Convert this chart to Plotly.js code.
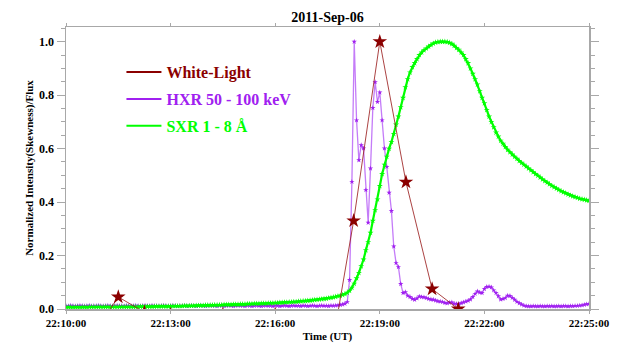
<!DOCTYPE html>
<html>
<head>
<meta charset="utf-8">
<script src="https://cdn.plot.ly/plotly-3.0.1.min.js"></script>
<style>
  html, body { margin: 0; padding: 0; background: #fff; }
  #graph { width: 629px; height: 354px; }
</style>
</head>
<body>
<div id="graph"></div>
<script>
// Start of the time window and cadence of the HXR / SXR samples (seconds)
const dayStr = '2011-09-06';
const startSec = 22 * 3600 + 10 * 60;
const cadence = 4;

// White-Light (normalized skewness), 45 s cadence
const wlTime = ['22:10:00', '22:10:45', '22:11:30', '22:12:15', '22:13:00', '22:13:45',
                '22:14:30', '22:15:15', '22:16:00', '22:16:45', '22:17:30', '22:18:15',
                '22:19:00', '22:19:45', '22:20:30', '22:21:15'];
const wlValue = [-0.05, -0.10, 0.045, -0.012, -0.02, -0.03,
                 -0.02, -0.03, -0.02, -0.03, -0.24, 0.33,
                 1.0, 0.475, 0.075, 0.0];

// HXR 50 - 100 keV, one value per 4 s from 22:10:00
const hxrValue = [
  0.012, 0.011, 0.013, 0.012, 0.011, 0.012, 0.013, 0.012, 0.011, 0.012, 0.013, 0.011, 0.012, 0.012, 0.013,
  0.012, 0.011, 0.012, 0.013, 0.012, 0.011, 0.012, 0.013, 0.012, 0.012, 0.011, 0.013, 0.012, 0.011, 0.012,
  0.013, 0.012, 0.011, 0.012, 0.013, 0.012, 0.011, 0.013, 0.012, 0.012, 0.011, 0.012, 0.013, 0.012, 0.011,
  0.012, 0.013, 0.012, 0.011, 0.012, 0.012, 0.013, 0.011, 0.012, 0.013, 0.012, 0.011, 0.012, 0.013, 0.012,
  0.011, 0.012, 0.013, 0.012, 0.012, 0.011, 0.013, 0.012, 0.011, 0.012, 0.013, 0.012, 0.011, 0.012, 0.013,
  0.012, 0.012, 0.011, 0.013, 0.012, 0.011, 0.012, 0.013, 0.012, 0.011, 0.012, 0.013, 0.012, 0.012, 0.011,
  0.013, 0.012, 0.011, 0.012, 0.013, 0.012, 0.011, 0.012, 0.013, 0.012, 0.012, 0.011, 0.013, 0.012, 0.011,
  0.012, 0.013, 0.012, 0.011, 0.012, 0.013, 0.012, 0.012, 0.011, 0.013, 0.012, 0.013, 0.014,
  0.015, 0.017, 0.020, 0.026, 0.109, 0.476, 1.000, 0.706, 0.557, 0.613, 0.601, 0.445, 0.323, 0.526, 0.752,
  0.849, 0.775, 0.810, 0.706, 0.601, 0.532, 0.435, 0.367, 0.234, 0.172, 0.157, 0.094, 0.060, 0.063, 0.050,
  0.045, 0.038, 0.035, 0.040, 0.047, 0.045, 0.044, 0.041, 0.038, 0.036, 0.035, 0.032, 0.029, 0.028, 0.026,
  0.023, 0.022, 0.024, 0.025, 0.020, 0.019, 0.019, 0.022, 0.025, 0.028, 0.031, 0.036, 0.045, 0.057, 0.066,
  0.062, 0.060, 0.075, 0.083, 0.084, 0.081, 0.070, 0.060, 0.048, 0.036, 0.038, 0.041, 0.050, 0.049, 0.042,
  0.035, 0.027, 0.022, 0.017, 0.013, 0.011, 0.010,
  0.010, 0.011, 0.010, 0.010, 0.011, 0.010, 0.010, 0.011, 0.010, 0.011, 0.010, 0.010, 0.011, 0.010, 0.011,
  0.011, 0.010, 0.011, 0.011, 0.012, 0.012, 0.013, 0.014, 0.016, 0.018, 0.019
];

// SXR 1 - 8 A (GOES), one value per 4 s from 22:10:00
const sxrValue = [
  0.007, 0.007, 0.007, 0.007, 0.007, 0.007, 0.007, 0.007, 0.007, 0.007, 0.008, 0.008, 0.008, 0.008, 0.008,
  0.008, 0.008, 0.008, 0.008, 0.008, 0.008, 0.008, 0.008, 0.008, 0.008, 0.008, 0.008, 0.008, 0.008, 0.008,
  0.008, 0.008, 0.009, 0.009, 0.009, 0.009, 0.009, 0.009, 0.009, 0.010, 0.010, 0.010, 0.010, 0.010, 0.010,
  0.010, 0.011, 0.011, 0.011, 0.011, 0.011, 0.012, 0.012, 0.012, 0.012, 0.012, 0.013, 0.013, 0.013, 0.013,
  0.014, 0.014, 0.014, 0.014, 0.015, 0.015, 0.015, 0.015, 0.016, 0.016, 0.016, 0.016, 0.017, 0.017, 0.017,
  0.018, 0.018, 0.018, 0.019, 0.019, 0.019, 0.020, 0.020, 0.020, 0.021, 0.021, 0.021, 0.022, 0.022, 0.022,
  0.023, 0.023, 0.024, 0.024, 0.025, 0.025, 0.026, 0.026, 0.027, 0.027, 0.028, 0.029, 0.030, 0.030, 0.031,
  0.032, 0.033, 0.034, 0.035, 0.036, 0.037, 0.038, 0.039, 0.041, 0.042, 0.044, 0.046, 0.048, 0.050, 0.053,
  0.056, 0.061, 0.068, 0.080, 0.095, 0.115, 0.135, 0.160, 0.185, 0.220, 0.250, 0.285, 0.330, 0.370, 0.410,
  0.460, 0.505, 0.540, 0.570, 0.600, 0.625, 0.655, 0.690, 0.720, 0.755, 0.790, 0.830, 0.860, 0.885, 0.905,
  0.920, 0.935, 0.950, 0.960, 0.968, 0.975, 0.982, 0.988, 0.993, 0.997, 0.999, 1.000, 1.000, 1.000, 0.999,
  0.996, 0.992, 0.985, 0.977, 0.970, 0.960, 0.950, 0.935, 0.920, 0.900, 0.880, 0.860, 0.840, 0.815, 0.790,
  0.770, 0.745, 0.720, 0.700, 0.680, 0.660, 0.645, 0.630, 0.618, 0.606, 0.596, 0.587, 0.578, 0.570, 0.562,
  0.554, 0.547, 0.540, 0.533, 0.526, 0.519, 0.512, 0.505, 0.499, 0.492, 0.485, 0.479, 0.473, 0.467, 0.461,
  0.456, 0.451, 0.446, 0.441, 0.437, 0.433, 0.429, 0.425, 0.422, 0.419, 0.416, 0.413, 0.411, 0.409, 0.407, 0.405
];

const yTicks = [0, 0.2, 0.4, 0.6, 0.8, 1.0];

// colours
const cWL = '#8B0000';
const cHXR = '#A020F0';
const cSXR = '#00FF00';
const axisGray = '#a8a8a8';
const fontFam = 'Liberation Serif, Times New Roman, serif';

function pad(n) { return (n < 10 ? '0' : '') + n; }
function stamp(sec) {
  const h = Math.floor(sec / 3600), m = Math.floor((sec % 3600) / 60), s = sec % 60;
  return dayStr + ' ' + pad(h) + ':' + pad(m) + ':' + pad(s);
}

const sampleTime = [];
for (let i = 0; i < hxrValue.length; i++) sampleTime.push(stamp(startSec + i * cadence));
const wlX = wlTime.map(t => dayStr + ' ' + t);

const hxr = {
  x: sampleTime, y: hxrValue, type: 'scatter', mode: 'lines+markers',
  line: { color: 'rgba(176,80,245,0.75)', width: 1.3 },
  marker: { symbol: 'star', size: 4, color: cHXR },
  showlegend: false, hoverinfo: 'x+y'
};
const sxr = {
  x: sampleTime, y: sxrValue, type: 'scatter', mode: 'lines+markers',
  line: { color: cSXR, width: 2.2 },
  marker: { symbol: 'star', size: 4.5, color: cSXR },
  showlegend: false, hoverinfo: 'x+y'
};
const wl = {
  x: wlX, y: wlValue, type: 'scatter', mode: 'lines+markers',
  line: { color: 'rgba(150,20,20,0.8)', width: 1 },
  marker: { symbol: 'star', size: 11, color: cWL },
  showlegend: false, hoverinfo: 'x+y'
};

// legend entries (lines only, like the original)
function legendItem(name, color, grp) {
  return {
    x: [null], y: [null], type: 'scatter', mode: 'lines',
    name: '<span style="color:' + color + '">' + name + '</span>',
    line: { color: color, width: 2 }, legendgroup: grp, showlegend: true
  };
}
const legWL = legendItem('White-Light', cWL, 'a');
const legHXR = legendItem('HXR 50 - 100 keV', cHXR, 'b');
const legSXR = legendItem('SXR 1 - 8 Å', cSXR, 'c');

const layout = {
  width: 629, height: 354,
  margin: { l: 66, r: 40, t: 27, b: 45 },
  paper_bgcolor: '#fff', plot_bgcolor: '#fff',
  font: { family: fontFam, color: '#000', weight: 'bold' },
  title: {
    text: '2011-Sep-06', font: { size: 14, weight: 'bold', family: fontFam },
    xref: 'paper', x: 0.5, xanchor: 'center', yref: 'container', y: 0.952, yanchor: 'middle'
  },
  xaxis: {
    type: 'date',
    range: [stamp(startSec), stamp(startSec + 900)],
    tick0: stamp(startSec), dtick: 180000, tickformat: '%H:%M:%S',
    showgrid: false, zeroline: false,
    showline: true, linecolor: axisGray, linewidth: 1.5, mirror: 'ticks',
    ticks: 'outside', ticklen: 3, tickcolor: axisGray, tickwidth: 1,
    tickfont: { size: 11, weight: 'bold', family: fontFam },
    title: { text: 'Time (UT)', font: { size: 11, weight: 'bold', family: fontFam }, standoff: 4 }
  },
  yaxis: {
    range: [0, 1.055],
    tickvals: yTicks, tickformat: '.1f',
    showgrid: false, zeroline: false,
    showline: true, linecolor: axisGray, linewidth: 1.5, mirror: 'ticks',
    ticks: 'outside', ticklen: 8, tickcolor: axisGray, tickwidth: 1,
    minor: { dtick: 0.05, ticks: 'outside', ticklen: 4, tickcolor: axisGray, showgrid: false },
    tickfont: { size: 12, weight: 'bold', family: fontFam },
    title: { text: 'Normalized Intensity(Skewness)/Flux', font: { size: 11, weight: 'bold', family: fontFam }, standoff: 3 }
  },
  legend: {
    x: 0.106, y: 0.9, xanchor: 'left', yanchor: 'top',
    bgcolor: 'rgba(0,0,0,0)', borderwidth: 0,
    font: { size: 16, weight: 'bold', family: fontFam },
    traceorder: 'grouped', tracegroupgap: 3, itemwidth: 35
  }
};

Plotly.newPlot('graph', [hxr, sxr, wl, legWL, legHXR, legSXR], layout, { displayModeBar: false, staticPlot: true });
</script>
</body>
</html>
